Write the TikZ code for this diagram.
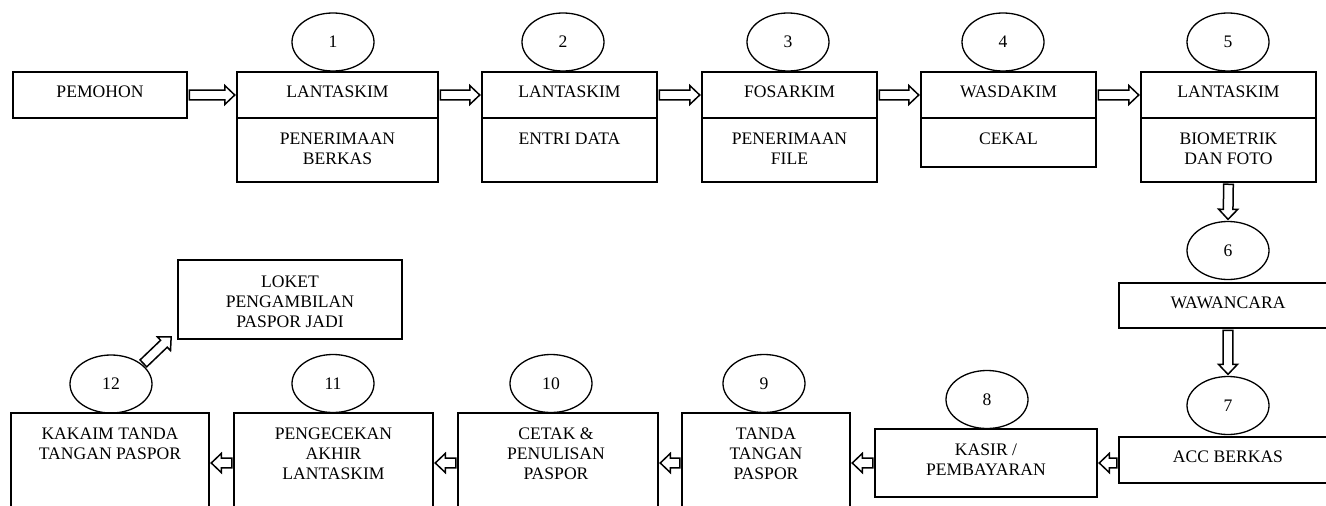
\documentclass[tikz,border=0pt]{standalone}
\usepackage{fontspec}
\setmainfont{Liberation Serif}
\usetikzlibrary{calc,shapes.geometric}
\newcommand\fs{\fontsize{17.6}{20}\selectfont}
\newcommand\blockarr[2]{%
  \path ($(#1)!1.5pt!(#2)$) coordinate (ba-a);
  \path ($(#2)!1.5pt!(#1)$) coordinate (ba-b);
  \path ($(ba-b)!10pt!(ba-a)$) coordinate (ba-h);
  \draw[blockarrow] ($(ba-a)!4.8pt!90:(ba-b)$) -- ($(ba-h)!4.8pt!-90:(ba-a)$)
    -- ($(ba-h)!9.5pt!-90:(ba-a)$) -- (ba-b) -- ($(ba-h)!9.5pt!90:(ba-a)$)
    -- ($(ba-h)!4.8pt!90:(ba-a)$) -- ($(ba-a)!4.8pt!-90:(ba-b)$) -- cycle;
}
\begin{document}
\begin{tikzpicture}[x=1pt,y=-1pt,
  box/.style={draw, rectangle, line width=1.5pt, inner sep=0pt},
  num/.style={draw, ellipse, line width=1.3pt, minimum width=82pt, minimum height=58pt, inner sep=0pt, font=\fs},
  txt/.style={inner sep=0pt, align=center, anchor=north, font=\fs},
  blockarrow/.style={draw, fill=white, line width=1.5pt, line join=miter}
]
\useasboundingbox (0,0) rectangle (1326,506);
\clip (0,0) rectangle (1326,506);

% top row
\node[box, minimum width=174pt, minimum height=46pt] (pem) at (100,95) {};
\node[txt] (pemt) at (100,86) {PEMOHON};

\node[box, minimum width=201pt, minimum height=46pt] (b1t) at (337.5,95) {};
\node[box, minimum width=201pt, minimum height=64pt] (b1b) at (337.5,150) {};
\node[num] (e1) at (333,42) {1};
\node[txt] (b1tt) at (337.5,86) {LANTASKIM};
\node[txt] (b1bt) at (337.5,133) {PENERIMAAN\\BERKAS};

\node[box, minimum width=175pt, minimum height=46pt] (b2t) at (569.5,95) {};
\node[box, minimum width=175pt, minimum height=64pt] (b2b) at (569.5,150) {};
\node[num] (e2) at (563,42) {2};
\node[txt] (b2tt) at (569.5,86) {LANTASKIM};
\node[txt] (b2bt) at (569.5,133) {ENTRI DATA};

\node[box, minimum width=175pt, minimum height=46pt] (b3t) at (789.5,95) {};
\node[box, minimum width=175pt, minimum height=64pt] (b3b) at (789.5,150) {};
\node[num] (e3) at (788,42) {3};
\node[txt] (b3tt) at (789.5,86) {FOSARKIM};
\node[txt] (b3bt) at (789.5,133) {PENERIMAAN\\FILE};

\node[box, minimum width=175pt, minimum height=46pt] (b4t) at (1008.5,95) {};
\node[box, minimum width=175pt, minimum height=49pt] (b4b) at (1008.5,142.5) {};
\node[num] (e4) at (1003,42) {4};
\node[txt] (b4tt) at (1008.5,86) {WASDAKIM};
\node[txt] (b4bt) at (1008.5,133) {CEKAL};

\node[box, minimum width=175pt, minimum height=46pt] (b5t) at (1228.5,95) {};
\node[box, minimum width=175pt, minimum height=64pt] (b5b) at (1228.5,150) {};
\node[num] (e5) at (1228,42) {5};
\node[txt] (b5tt) at (1228.5,86) {LANTASKIM};
\node[txt] (b5bt) at (1228.5,133) {BIOMETRIK\\DAN FOTO};

% right column
\node[num] (e6) at (1228,250.5) {6};
\node[box, minimum width=218pt, minimum height=45pt] (wawa) at (1228,305.5) {};
\node[txt] (wawat) at (1228,297) {WAWANCARA};
\node[num] (e7) at (1228,405.5) {7};
\node[box, minimum width=218pt, minimum height=46pt] (acc) at (1228,460) {};
\node[txt] (acct) at (1228,451) {ACC BERKAS};

% bottom row
\node[box, minimum width=222pt, minimum height=68pt] (kasir) at (986,463) {};
\node[num] (e8) at (987,399.5) {8};
\node[txt] (kasirt) at (986,444) {KASIR /\\PEMBAYARAN};

\node[box, minimum width=168pt, minimum height=117pt] (b9) at (766,471.5) {};
\node[num] (e9) at (764,383.5) {9};
\node[txt] (b9t) at (766,427.5) {TANDA\\TANGAN\\PASPOR};

\node[box, minimum width=200pt, minimum height=117pt] (b10) at (558,471.5) {};
\node[num] (e10) at (551,383.5) {10};
\node[txt] (b10t) at (556,427.5) {CETAK \&\\PENULISAN\\PASPOR};

\node[box, minimum width=199pt, minimum height=117pt] (b11) at (333.5,471.5) {};
\node[num] (e11) at (333,383.5) {11};
\node[txt] (b11t) at (333.5,427.5) {PENGECEKAN\\AKHIR\\LANTASKIM};

\node[box, minimum width=198pt, minimum height=117pt] (b12) at (110,471.5) {};
\node[num] (e12) at (111,384) {12};
\node[txt] (b12t) at (110,427.5) {KAKAIM TANDA\\TANGAN PASPOR};

\node[box, minimum width=224pt, minimum height=79pt] (lok) at (290,299.5) {};
\node[txt] (lokt) at (290,276) {LOKET\\PENGAMBILAN\\PASPOR JADI};

% connector helper coordinates
\coordinate (accw) at (acc.west |- kasir.west);
\coordinate (b9e) at (b9.east |- kasir.west);
\coordinate (b9w) at (b9.west |- kasir.west);
\coordinate (b10e) at (b10.east |- kasir.west);
\coordinate (b10w) at (b10.west |- kasir.west);
\coordinate (b11e) at (b11.east |- kasir.west);
\coordinate (b11w) at (b11.west |- kasir.west);
\coordinate (b12e) at (b12.east |- kasir.west);
\coordinate (lkt) at ($(lok.south west)+(-5,-4)$);

% connectors
\blockarr{pem.east}{b1t.west}
\blockarr{b1t.east}{b2t.west}
\blockarr{b2t.east}{b3t.west}
\blockarr{b3t.east}{b4t.west}
\blockarr{b4t.east}{b5t.west}
\blockarr{b5b.south}{e6.north}
\blockarr{wawa.south}{e7.north}
\blockarr{accw}{kasir.east}
\blockarr{kasir.west}{b9e}
\blockarr{b9w}{b10e}
\blockarr{b10w}{b11e}
\blockarr{b11w}{b12e}
\blockarr{e12.32}{lkt}
\end{tikzpicture}
\end{document}
